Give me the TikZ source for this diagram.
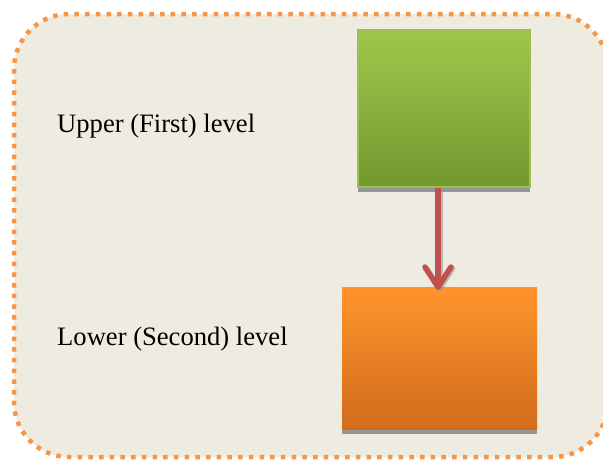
\documentclass[tikz,border=0pt]{standalone}
\usepackage{fontspec}
\setmainfont{Liberation Serif}
\usetikzlibrary{arrows.meta,shadows}
\definecolor{bgcream}{RGB}{238,235,224}
\definecolor{dotorange}{RGB}{247,150,70}
\definecolor{gtop}{RGB}{160,199,74}
\definecolor{gbot}{RGB}{114,152,48}
\definecolor{gline}{RGB}{155,190,85}
\definecolor{otop}{RGB}{255,148,44}
\definecolor{obot}{RGB}{210,108,28}
\definecolor{arrred}{RGB}{192,80,77}
\definecolor{shgray}{RGB}{150,150,150}
\tikzset{
  levelbox/.style={draw=none, inner sep=0pt, drop shadow={shadow xshift=0pt, shadow yshift=-4.5pt, fill=shgray, opacity=1}},
  greenbox/.style={levelbox, top color=gtop, bottom color=gbot, draw=gline, line width=1.2pt},
  orangebox/.style={levelbox, top color=otop, bottom color=obot},
  leveltext/.style={anchor=west, inner sep=0pt, font=\fontsize{26.6}{30}\selectfont},
  connector/.style={draw=arrred, line width=6pt, -{Straight Barb[length=20pt, width=26pt, line width=5.5pt, round]}},
  frame/.style={draw=dotorange, fill=bgcream, line width=4.5pt, dash pattern=on 4.5pt off 6.2pt, rounded corners=55pt}
}
\begin{document}
\begin{tikzpicture}[x=1pt,y=-1pt]
\useasboundingbox (0,0) rectangle (603,459);
\path[frame] (14,14) rectangle (608,457);
\node[greenbox, minimum width=172pt, minimum height=157pt] (upper) at (444,108.5) {};
\node[orangebox, minimum width=195pt, minimum height=142pt] (lower) at (439.5,358) {};
\coordinate (ax) at (438,0);
\draw[connector, draw=shgray, opacity=0.6] ([xshift=1.5pt,yshift=-1.5pt]ax |- upper.south) -- ([xshift=1.5pt,yshift=-4.5pt]ax |- lower.north);
\draw[connector] (ax |- upper.south) -- ([yshift=-3pt]ax |- lower.north);
\node[leveltext] (uppertext) at (57,126) {Upper (First) level};
\node[leveltext] (lowertext) at (57,339) {Lower (Second) level};
\end{tikzpicture}
\end{document}
